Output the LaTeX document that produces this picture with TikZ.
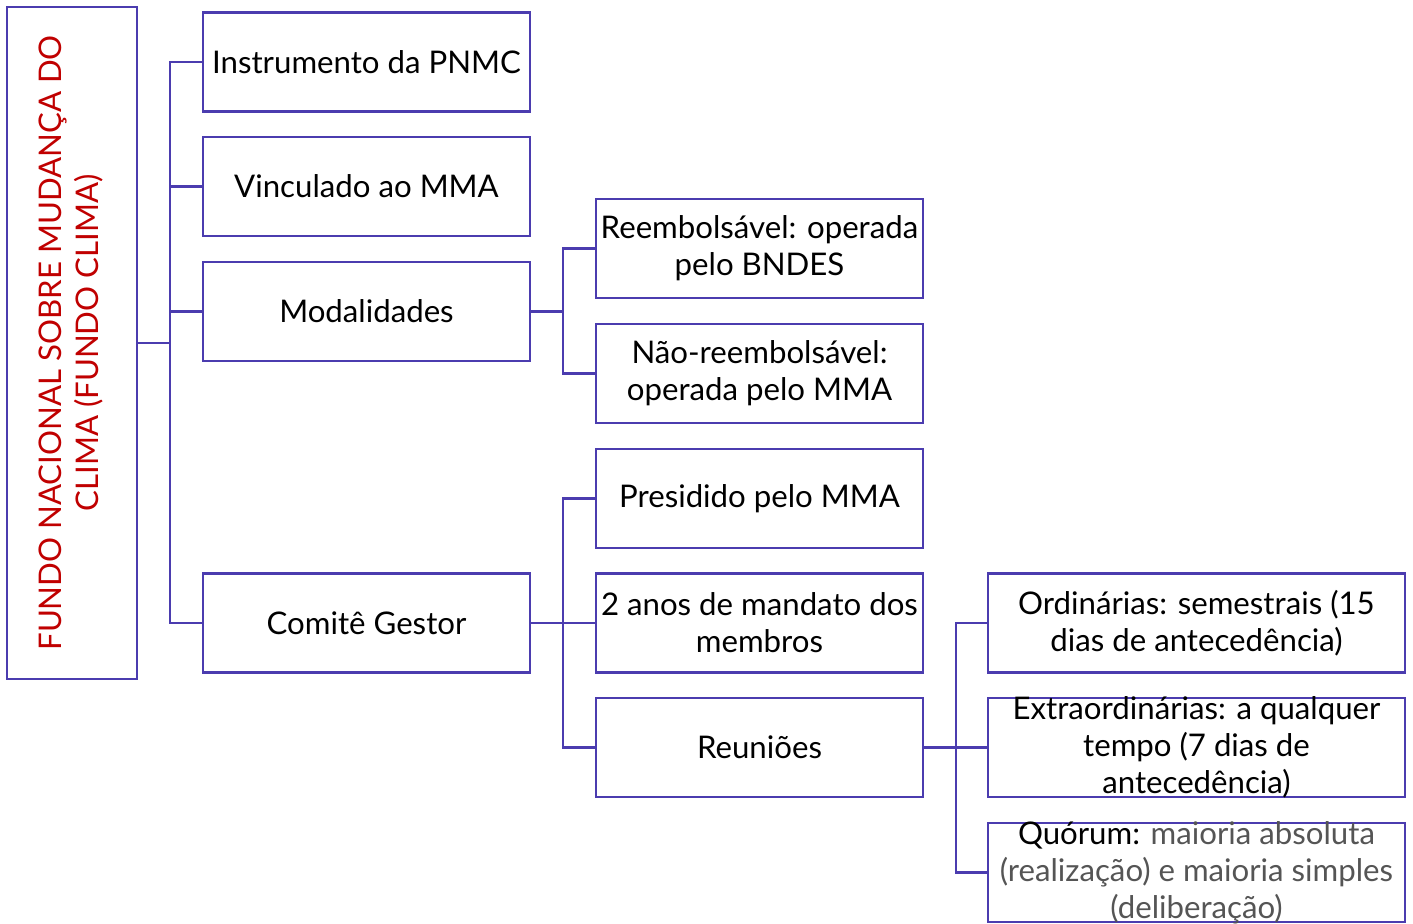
\documentclass[tikz,border=0pt]{standalone}
\usepackage{fontspec}
\setmainfont{Lato}
\definecolor{bd}{HTML}{4B3CAF}
\definecolor{rd}{HTML}{C00000}
\definecolor{gr}{HTML}{555555}
\tikzset{
  box/.style={draw=bd, line width=1.7pt, inner sep=0pt, minimum width=245.25pt, minimum height=74.25pt},
  bigbox/.style={box, minimum width=312.75pt},
  rootbox/.style={draw=bd, line width=1.7pt, inner sep=0pt, minimum width=97.5pt, minimum height=504pt},
  txt/.style={align=center, inner sep=0pt, font=\fontsize{23.4}{27.75}\selectfont},
  conn/.style={draw=bd, line width=1.7pt},
}
\begin{document}
\begin{tikzpicture}[x=0.75pt, y=-0.75pt]
\useasboundingbox (0,0) rectangle (1413,924);
% root
\node[rootbox] (root) at (72,343) {};
\node[txt, text=rd, rotate=90] (roott) at (71,343) {FUNDO NACIONAL SOBRE MUDANÇA DO\\CLIMA (FUNDO CLIMA)};
% level 1
\node[box] (b1) at (366.5,62) {};
\node[box] (b2) at (366.5,186.5) {};
\node[box] (b3) at (366.5,311.5) {};
\node[box] (b4) at (366.5,623) {};
\node[txt] (b1t) at (b1.center) {Instrumento da PNMC};
\node[txt] (b2t) at (b2.center) {Vinculado ao MMA};
\node[txt] (b3t) at (b3.center) {Modalidades};
\node[txt] (b4t) at (b4.center) {Comitê Gestor};
% level 2
\node[box] (c1) at (759.5,248.5) {};
\node[box] (c2) at (759.5,373.5) {};
\node[box] (c3) at (759.5,498.5) {};
\node[box] (c4) at (759.5,623) {};
\node[box] (c5) at (759.5,747.5) {};
\node[txt] (c1t) at (c1.center) {Reembolsável: operada\\pelo BNDES};
\node[txt] (c2t) at (c2.center) {Não-reembolsável:\\operada pelo MMA};
\node[txt] (c3t) at (c3.center) {Presidido pelo MMA};
\node[txt] (c4t) at (c4.center) {2 anos de mandato dos\\membros};
\node[txt] (c5t) at (c5.center) {Reuniões};
% level 3
\node[bigbox] (d1) at (1196.5,623) {};
\node[bigbox] (d2) at (1196.5,747.5) {};
\node[bigbox] (d3) at (1196.5,872.5) {};
\node[txt] (d1t) at (d1.center) {Ordinárias: semestrais (15\\dias de antecedência)};
\node[txt] (d2t) at (d2.center) {Extraordinárias: a qualquer\\tempo (7 dias de\\antecedência)};
\node[txt, text=gr] (d3t) at (d3.center) {\textcolor{black}{Quórum:} maioria absoluta\\(realização) e maioria simples\\(deliberação)};
% connectors
\coordinate (t1) at (170,343);
\coordinate (t2) at (563,311.5);
\coordinate (t3) at (563,623);
\coordinate (t4) at (956,747.5);
\draw[conn] (root.east) -- (t1);
\draw[conn] (t1) |- (b1.west);
\draw[conn] (t1) |- (b2.west);
\draw[conn] (t1) |- (b3.west);
\draw[conn] (t1) |- (b4.west);
\draw[conn] (b3.east) -- (t2);
\draw[conn] (t2) |- (c1.west);
\draw[conn] (t2) |- (c2.west);
\draw[conn] (b4.east) -- (t3);
\draw[conn] (t3) |- (c3.west);
\draw[conn] (t3) |- (c4.west);
\draw[conn] (t3) |- (c5.west);
\draw[conn] (c5.east) -- (t4);
\draw[conn] (t4) |- (d1.west);
\draw[conn] (t4) |- (d2.west);
\draw[conn] (t4) |- (d3.west);
\end{tikzpicture}
\end{document}
